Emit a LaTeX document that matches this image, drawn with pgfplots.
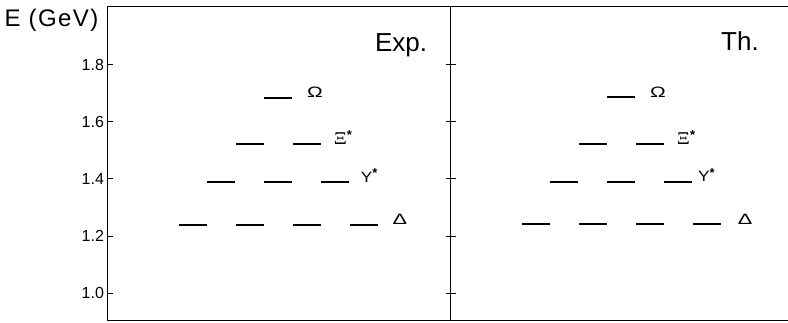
\documentclass[border=0pt]{standalone}
\usepackage{fontspec}
\setmainfont{Liberation Sans}
\newfontfamily\serifgreek{Liberation Serif}
\usepackage{pgfplots}
\pgfplotsset{compat=1.18}
\usepackage{pgfplotstable}

% Decuplet levels: position along the multiplet row, mass in GeV
\pgfplotstableread{
x   E
1.5 1.240
2.5 1.240
3.5 1.240
4.5 1.240
2.0 1.388
3.0 1.388
4.0 1.388
2.5 1.521
3.5 1.521
3.0 1.684
}\expdata

\pgfplotstableread{
x   E
1.5 1.242
2.5 1.242
3.5 1.242
4.5 1.242
2.0 1.390
3.0 1.390
4.0 1.390
2.5 1.521
3.5 1.521
3.0 1.686
}\thdata

\pgfplotsset{
  levels/.style={
    scale only axis,
    height=314pt,
    ymin=0.905, ymax=2.003,
    xmin=0,
    xtick=\empty,
    ytick={1.0,1.2,1.4,1.6,1.8},
    tick align=inside,
    major tick length=5pt,
    axis line style={line width=1pt},
    every tick/.style={line width=0.9pt, black},
    clip=false,
  },
  level/.style={only marks, mark=-, mark size=14pt,
    mark options={line width=1.8pt, black}},
}
\tikzset{
  lvlname/.style={anchor=base west, inner sep=0pt, font=\fontsize{15}{15}\selectfont},
  paneltitle/.style={anchor=base east, font=\fontsize{26}{26}\selectfont},
}
% level names, drawn wide as on the original lettering
\newcommand{\st}{\raisebox{4.5pt}{\fontsize{13}{13}\selectfont\bfseries *}}
\newcommand{\Om}{\scalebox{1.4}[1]{Ω}}
\newcommand{\Xs}{\scalebox{1.35}[1.2]{\serifgreek Ξ}\st}
\newcommand{\Ys}{\scalebox{1.15}[1]{Y}\st}
\newcommand{\De}{\scalebox{1.45}[1]{Δ}}

\begin{document}
\begin{tikzpicture}[x=1pt, y=1pt]
\path[use as bounding box] (0,0) rectangle (788,323);

% experimental spectrum
\begin{axis}[levels,
  at={(107.5pt,2.5pt)}, anchor=south west,
  width=343pt, xmax=6.018,
  ytick pos=both,
  yticklabels={1.0,1.2,1.4,1.6,1.8},
  yticklabel style={font=\fontsize{16}{16}\selectfont},
]
\addplot[level] table[x=x, y=E] {\expdata};
\node[lvlname] at (axis cs:3.50,1.684) {\Om};
\node[lvlname] at (axis cs:3.97,1.521) {\Xs};
\node[lvlname] at (axis cs:4.44,1.388) {\Ys};
\node[lvlname] at (axis cs:5.00,1.240) {\De};
\node[paneltitle] at (axis cs:5.67,1.846) {Exp.};
\end{axis}

% theoretical spectrum
\begin{axis}[levels,
  at={(450.5pt,2.5pt)}, anchor=south west,
  width=338pt, xmax=5.93,
  axis x line*=box, axis y line*=left,
  y axis line style={-},
  ytick pos=left,
  yticklabels={},
]
\addplot[level] table[x=x, y=E] {\thdata};
\node[lvlname] at (axis cs:3.50,1.686) {\Om};
\node[lvlname] at (axis cs:3.97,1.521) {\Xs};
\node[lvlname] at (axis cs:4.34,1.390) {\Ys};
\node[lvlname] at (axis cs:5.04,1.242) {\De};
\node[paneltitle] at (axis cs:5.47,1.849) {Th.};
\end{axis}

\node[anchor=base west, font=\fontsize{24}{24}\selectfont\addfontfeature{LetterSpace=6}] at (1,296) {E (GeV)};
\end{tikzpicture}
\end{document}
